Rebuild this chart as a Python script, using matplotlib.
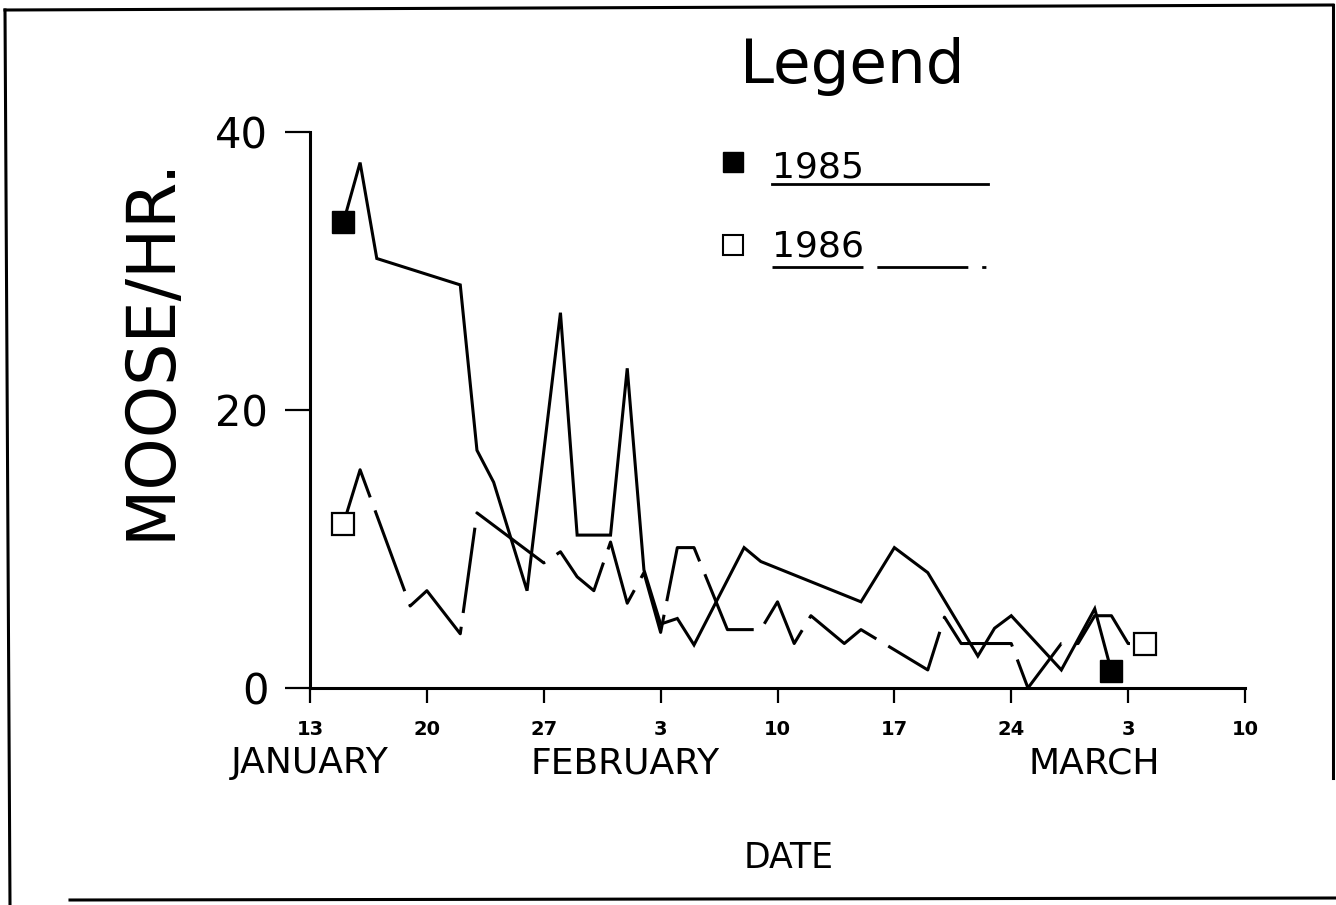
import matplotlib
matplotlib.use("Agg")
import matplotlib.pyplot as plt
from matplotlib.lines import Line2D

plt.rcParams['font.family'] = ['DejaVu Sans']
plt.rcParams['lines.scale_dashes'] = False

# ---- data (x = days after 13 January) ----
days_1985 = [2, 3, 4, 9, 10, 11, 13, 15, 16, 18, 19, 20, 21, 22, 23, 26, 27,
             33, 35, 37, 40, 41, 42, 45, 47, 48]
moose_1985 = [33.5, 37.8, 30.9, 29.0, 17.1, 14.8, 7.0, 27.0, 11.0, 11.0, 23.0,
              8.5, 4.6, 5.0, 3.1, 10.1, 9.1, 6.2, 10.1, 8.3, 2.3, 4.3, 5.2,
              1.3, 5.7, 1.2]

days_1986 = [2, 3, 6, 7, 9, 10, 14, 15, 16, 17, 18, 19, 20, 21, 22, 23, 25, 27,
             28, 29, 30, 32, 33, 37, 38, 39, 42, 43, 45, 46, 47, 48, 49, 50]
moose_1986 = [11.8, 15.7, 5.9, 7.0, 3.9, 12.6, 9.0, 9.8, 8.0, 7.0, 10.5, 6.1,
              8.3, 4.0, 10.1, 10.1, 4.2, 4.2, 6.2, 3.2, 5.2, 3.2, 4.2, 1.3,
              5.1, 3.2, 3.2, 0.0, 3.2, 3.2, 5.2, 5.2, 3.2, 3.2]

tick_days = [0, 7, 14, 21, 28, 35, 42, 49, 56]
tick_labels = ["13", "20", "27", "3", "10", "17", "24", "3", "10"]
months = ["JANUARY", "FEBRUARY", "MARCH"]
month_pos = [0, 18.9, 47]
y_ticks = [0, 20, 40]
series_names = ["1985", "1986"]

W, H = 1336, 905
fig = plt.figure(figsize=(W / 100, H / 100), dpi=100)
ax = fig.add_axes([310 / W, 1 - 688 / H, (1245 - 310) / W, (688 - 132) / H])

lw = 2.2
ax.plot(days_1985, moose_1985, color='black', lw=lw, solid_joinstyle='miter',
        marker='s', markevery=[0, len(days_1985) - 1], markersize=16.5,
        markerfacecolor='black', markeredgecolor='black', clip_on=False, zorder=3)
ax.plot(days_1986, moose_1986, color='black', lw=lw, dashes=(62, 10),
        marker='s', markevery=[0, len(days_1986) - 1], markersize=16.5,
        markerfacecolor='white', markeredgecolor='black', markeredgewidth=1.6,
        clip_on=False, zorder=3)

ax.set_xlim(0, 56)
ax.set_ylim(0, 40)
for s in ['top', 'right']:
    ax.spines[s].set_visible(False)
for s in ['left', 'bottom']:
    ax.spines[s].set_linewidth(2.2)

ax.set_xticks(tick_days)
ax.set_xticklabels(tick_labels, fontsize=14, fontweight='bold')
ax.set_yticks(y_ticks)
ax.set_yticklabels([str(v) for v in y_ticks], fontsize=30)
ax.tick_params(axis='x', direction='out', length=11, width=1.6, pad=12)
ax.tick_params(axis='y', direction='out', length=18, width=1.6, pad=12)

trans = ax.get_xaxis_transform()
for m, p in zip(months, month_pos):
    ax.text(p, -0.153, m, transform=trans, ha='center', va='baseline', fontsize=26)

fig.text(789 / W, 1 - 868 / H, "DATE", ha='center', va='baseline', fontsize=25)
fig.text(150 / W, 1 - 348 / H, "MOOSE/HR.", ha='center', va='center',
         rotation=90, fontsize=48)

# ---- legend ----
fig.text(852 / W, 1 - 83 / H, "Legend", ha='center', va='baseline', fontsize=44)
fig.text(772 / W, 1 - 177 / H, series_names[0], ha='left', va='baseline', fontsize=26)
fig.text(772 / W, 1 - 256 / H, series_names[1], ha='left', va='baseline', fontsize=26)
ft = fig.transFigure
fig.add_artist(Line2D([733 / W], [1 - 162 / H], marker='s', markersize=14,
                      color='black', transform=ft))
fig.add_artist(Line2D([733 / W], [1 - 245 / H], marker='s', markersize=14,
                      markerfacecolor='white', markeredgecolor='black',
                      markeredgewidth=1.5, transform=ft))
fig.add_artist(Line2D([772 / W, 988 / W], [1 - 184 / H] * 2, color='black',
                      lw=2.0, transform=ft))
fig.add_artist(Line2D([772 / W, 988 / W], [1 - 267 / H] * 2, color='black',
                      lw=2.0, dashes=(65.5, 10, 65.5, 10, 3, 100), transform=ft))

# ---- outer frame ----
frame = [([5, 1333], [10, 5]), ([5, 10], [10, 905]), ([1333, 1333], [5, 778]),
         ([70, 1336], [900, 898])]
for xs, ys in frame:
    fig.add_artist(Line2D([x / W for x in xs], [1 - y / H for y in ys],
                          color='black', lw=2.2, transform=ft))

fig.savefig("out.png", dpi=100)
